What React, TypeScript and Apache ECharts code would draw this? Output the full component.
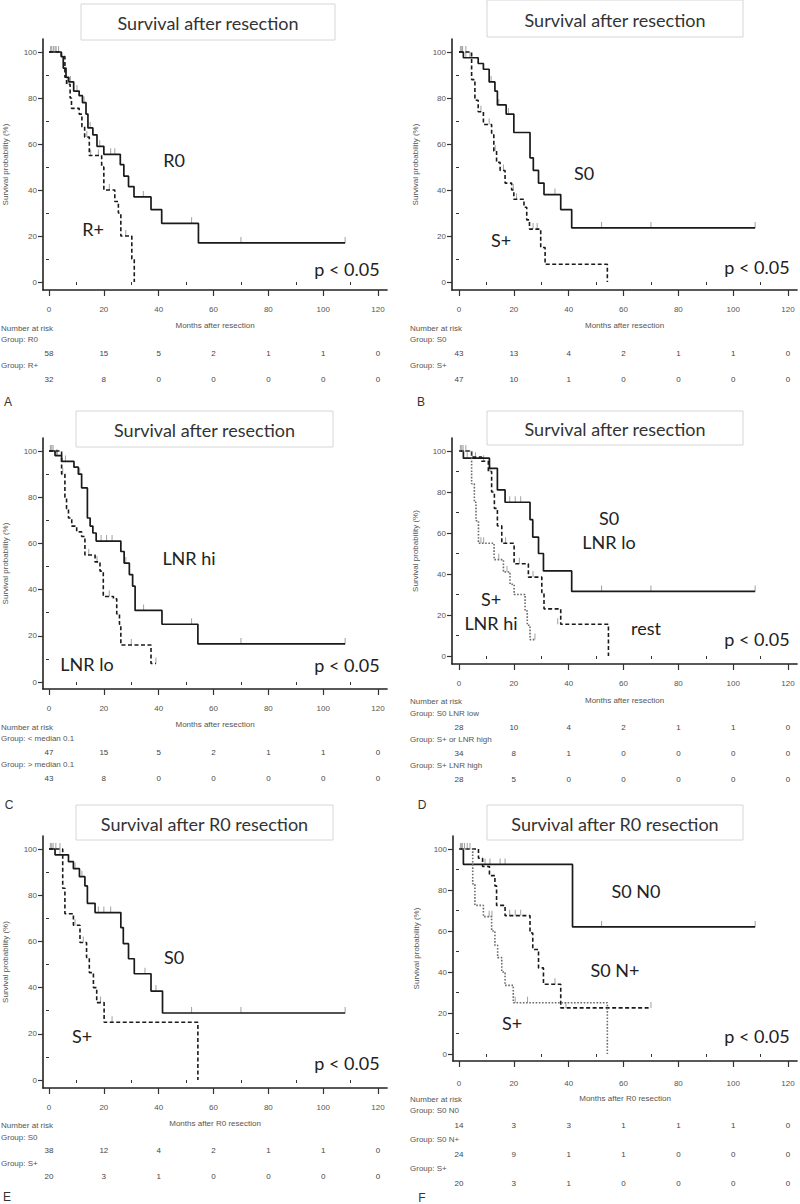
import React, { useEffect, useRef } from "react";
import * as echarts from "echarts";

type Pt = [number, number];

// ---------- axes ----------
const MONTH_TICKS = [0, 20, 40, 60, 80, 100, 120];
const MONTH_MINOR = [10, 30, 50, 70, 90, 110];
const PROB_TICKS = [0, 20, 40, 60, 80, 100];
const PROB_MINOR = [10, 30, 50, 70, 90];

// ---------- Panel A : R0 vs R+ ----------
const A_R0: Pt[] = [[0,100],[4.5,98],[5.2,93],[6.2,89],[7.2,87],[9,83],[11,81],[12.2,78],[13.5,73],[14.2,67],[16,64],[17.5,59],[20,55.5],[26,51],[27.3,46],[29,41.5],[31,37],[37.2,31.5],[41.1,25.5],[54.5,17],[108,17]];
const A_R0_CENS: Pt[] = [[0.6,100],[1.6,100],[2.6,100],[3.5,100],[7.8,87],[10.2,83],[12.8,78],[15,67],[18.5,59],[22.5,55.5],[24,55.5],[34.4,37],[52,25.5],[70,17],[108,17]];
const A_RP: Pt[] = [[0,100],[4.5,98],[5.8,89],[6.4,86],[7.7,80],[8.2,75.5],[11,73],[12,67.5],[13,63],[14.7,55],[19.2,50],[20,40],[24,35],[25.3,30],[26.2,20],[30.2,10],[31.1,0]];
const A_RP_CENS: Pt[] = [[1,100],[2.2,100],[6.8,86],[13.8,63],[15.2,55],[18,55],[22,40],[28,20]];
const A_RISK_R0 = [58, 15, 5, 2, 1, 1, 0];
const A_RISK_RP = [32, 8, 0, 0, 0, 0, 0];

// ---------- Panel B : S0 vs S+ ----------
const B_S0: Pt[] = [[0,100],[1.6,97.5],[7,95],[8.9,92.5],[11,87],[13.1,83],[14,77],[17.2,73],[20,65],[25.9,54],[27.1,48.5],[29,43],[31,38],[37.1,31.5],[41.1,23.5],[108,23.5]];
const B_S0_CENS: Pt[] = [[0.5,100],[1.3,100],[2.5,97.5],[4,97.5],[11.7,87],[14.5,77],[18,73],[35,38],[52,23.5],[70,23.5],[108,23.5]];
const B_SP: Pt[] = [[0,100],[4.6,88],[5.8,79],[7,74],[8.9,68.5],[11.9,64],[12.7,57],[13.7,52],[15,48.5],[16.8,43],[19.2,40],[20,36],[23.7,32.5],[24.7,27],[25.7,23],[29.8,15],[31.4,7.7],[54.1,0]];
const B_SP_CENS: Pt[] = [[1,100],[2.5,100],[8,74],[11,68.5],[13.2,57],[16.2,48.5],[19.8,40],[21,36],[27,23],[28.5,23]];
const B_RISK_S0 = [43, 13, 4, 2, 1, 1, 0];
const B_RISK_SP = [47, 10, 1, 0, 0, 0, 0];

// ---------- Panel C : LNR ----------
const C_HI: Pt[] = [[0,100],[2.2,98],[4.6,95.5],[9.1,93],[10.7,90],[11.9,84],[14,71],[15,67.5],[16,64.5],[17.2,61],[26.2,56.5],[27.4,51.5],[29.3,46.5],[30.5,41.5],[31.4,31],[41.2,25],[54.3,16.5],[108,16.5]];
const C_HI_CENS: Pt[] = [[0.5,100],[1.5,100],[3,98],[6,95.5],[11.2,90],[19,61],[21,61],[23,61],[28,51.5],[34.5,31],[52,25],[70,16.5],[108,16.5]];
const C_LO: Pt[] = [[0,100],[4.6,90],[5.8,80],[6.4,75],[7.1,71],[8.3,67.5],[10.1,65],[11.9,63],[13.1,55],[16.8,52],[18.6,48],[19.8,37],[23.5,36],[24.7,29.5],[25.7,25],[26.2,16],[37.2,8],[39,8]];
const C_LO_CENS: Pt[] = [[1,100],[2.8,98],[5,90],[14.5,55],[17.5,52],[22,37],[30,16],[39,8]];
const C_RISK_LO = [47, 15, 5, 2, 1, 1, 0];
const C_RISK_HI = [43, 8, 0, 0, 0, 0, 0];

// ---------- Panel D : S / LNR combined ----------
const D_S0LO: Pt[] = [[0,100],[1.6,96.5],[11.1,91.5],[14,81],[16.8,75],[25.9,66.5],[26.9,58],[29,50],[30.8,41.5],[41.1,31.5],[108,31.5]];
const D_S0LO_CENS: Pt[] = [[0.5,100],[3,96.5],[6,96.5],[18.5,75],[20.5,75],[22.5,75],[52,31.5],[70,31.5],[108,31.5]];
const D_REST: Pt[] = [[0,100],[4.6,97],[8.3,95],[10.7,90],[11.9,80],[12.9,72],[14,63.5],[15.6,55],[20.1,45],[25.3,38.5],[30.2,31],[31,23],[37.1,15.5],[54.5,0]];
const D_REST_CENS: Pt[] = [[1,100],[2.5,100],[9,95],[11.3,90],[17,55],[22,45],[27,38.5],[36,15.5]];
const D_SPHI: Pt[] = [[0,100],[4.6,84],[5.6,75],[6.2,66],[7.1,55],[12.8,47],[16.2,41],[18.6,35],[20.1,30],[24.1,22],[24.9,15],[25.9,8],[27.7,8]];
const D_SPHI_CENS: Pt[] = [[1.5,100],[8,55],[9,55],[14.5,47],[17.5,41],[27.7,8]];
const D_RISK_S0LO = [28, 10, 4, 2, 1, 1, 0];
const D_RISK_REST = [34, 8, 1, 0, 0, 0, 0];
const D_RISK_SPHI = [28, 5, 0, 0, 0, 0, 0];

// ---------- Panel E : R0 resection, S0 vs S+ ----------
const E_S0: Pt[] = [[0,100],[2.2,97.5],[7.1,94.5],[8.9,91.5],[11.1,88],[13.1,84],[14,76.5],[16.8,72.5],[26.2,66],[27.1,59],[29,52.5],[31.1,46],[37.2,38.5],[41.4,29],[108,29]];
const E_S0_CENS: Pt[] = [[0.5,100],[1.5,100],[4,97.5],[9.5,91.5],[12,88],[18,72.5],[20,72.5],[22.5,72.5],[35,46],[39,38.5],[52,29],[70,29],[108,29]];
const E_SP: Pt[] = [[0,100],[5,83],[5.8,72],[8.9,67],[11.3,59.5],[13.7,53],[14.7,46.5],[16.2,40],[17.4,33.5],[20.1,25],[54.3,0]];
const E_SP_CENS: Pt[] = [[1,100],[2.5,100],[4,100],[9.5,67],[12.5,59.5],[18.8,33.5],[23,25]];
const E_RISK_S0 = [38, 12, 4, 2, 1, 1, 0];
const E_RISK_SP = [20, 3, 1, 0, 0, 0, 0];

// ---------- Panel F : R0 resection, S0 N0 / S0 N+ / S+ ----------
const F_S0N0: Pt[] = [[0,100],[1.6,92.5],[41.4,62],[108,62]];
const F_S0N0_CENS: Pt[] = [[0.5,100],[1.2,100],[9.5,92.5],[11.3,92.5],[15,92.5],[16.8,92.5],[52,62],[108,62]];
const F_S0NP: Pt[] = [[0,100],[7.1,95.5],[8.6,91.5],[11.1,87],[13.1,82],[13.7,72.5],[16.8,67.5],[25.9,59],[26.9,51],[29,42],[30.8,34],[37.1,22.5],[70,22.5]];
const F_S0NP_CENS: Pt[] = [[2,100],[4,100],[18.5,67.5],[20.5,67.5],[22.5,67.5],[35,34],[39,22.5],[70,22.5]];
const F_SP: Pt[] = [[0,100],[5,83],[5.8,72.5],[8.9,67],[11.9,60],[13.1,53],[14.1,47],[15.6,40],[16.8,33.5],[19.8,25],[54.1,0]];
const F_SP_CENS: Pt[] = [[1,100],[3,100],[11,67],[12,67],[20.5,25],[25,25]];
const F_RISK_S0N0 = [14, 3, 3, 1, 1, 1, 0];
const F_RISK_S0NP = [24, 9, 1, 1, 0, 0, 0];
const F_RISK_SP = [20, 3, 1, 0, 0, 0, 0];

// ---------- layout ----------
const PANELS = [
  {
    letter: "A", letterX: 8, letterY: 402, title: "Survival after resection", box: [81, 4, 254, 36],
    t0: 49, y100: 52, y0: 282, axX: 43, axY: 290, xName: "Months after resection", labelMargin: 15, nameGap: 31,
    tableLeft: 1, nar: 38, g0: 49, n0: 63, step: 26,
    groups: [{ name: "Group: R0", risk: A_RISK_R0 }, { name: "Group: R+", risk: A_RISK_RP }],
    curves: [{ data: A_R0, cens: A_R0_CENS, kind: "solid" }, { data: A_RP, cens: A_RP_CENS, kind: "dashed" }],
    notes: [{ text: "R0", x: 174, y: 160 }, { text: "R+", x: 93, y: 229 }, { text: "p < 0.05", x: 347, y: 269 }],
  },
  {
    letter: "B", letterX: 421, letterY: 402, title: "Survival after resection", box: [487, 0, 256, 37],
    t0: 459, y100: 52, y0: 282, axX: 452, axY: 290, xName: "Months after resection", labelMargin: 15, nameGap: 31,
    tableLeft: 410, nar: 38, g0: 49, n0: 63, step: 26,
    groups: [{ name: "Group: S0", risk: B_RISK_S0 }, { name: "Group: S+", risk: B_RISK_SP }],
    curves: [{ data: B_S0, cens: B_S0_CENS, kind: "solid" }, { data: B_SP, cens: B_SP_CENS, kind: "dashed" }],
    notes: [{ text: "S0", x: 584, y: 173 }, { text: "S+", x: 501, y: 240 }, { text: "p < 0.05", x: 757, y: 267 }],
  },
  {
    letter: "C", letterX: 9, letterY: 805, title: "Survival after resection", box: [76, 411, 257, 36],
    t0: 49, y100: 451, y0: 682, axX: 43, axY: 689, xName: "Months after resection", labelMargin: 15, nameGap: 31,
    tableLeft: 1, nar: 38, g0: 49, n0: 63, step: 26,
    groups: [{ name: "Group: < median 0.1", risk: C_RISK_LO }, { name: "Group: > median 0.1", risk: C_RISK_HI }],
    curves: [{ data: C_HI, cens: C_HI_CENS, kind: "solid" }, { data: C_LO, cens: C_LO_CENS, kind: "dashed" }],
    notes: [{ text: "LNR hi", x: 189, y: 558 }, { text: "LNR lo", x: 87, y: 664 }, { text: "p < 0.05", x: 347, y: 665 }],
  },
  {
    letter: "D", letterX: 422, letterY: 805, title: "Survival after resection", box: [487, 411, 256, 34],
    t0: 459, y100: 451, y0: 656, axX: 452, axY: 664, xName: "Months after resection", labelMargin: 15, nameGap: 32,
    tableLeft: 410, nar: 37, g0: 49, n0: 63, step: 26,
    groups: [
      { name: "Group: S0 LNR low", risk: D_RISK_S0LO },
      { name: "Group: S+ or LNR high", risk: D_RISK_REST },
      { name: "Group: S+ LNR high", risk: D_RISK_SPHI },
    ],
    curves: [
      { data: D_S0LO, cens: D_S0LO_CENS, kind: "solid" },
      { data: D_REST, cens: D_REST_CENS, kind: "dashed" },
      { data: D_SPHI, cens: D_SPHI_CENS, kind: "dotted" },
    ],
    notes: [
      { text: "S0", x: 609, y: 518 }, { text: "LNR lo", x: 609, y: 542 },
      { text: "S+", x: 491, y: 599 }, { text: "LNR hi", x: 491, y: 623 },
      { text: "rest", x: 646, y: 628 }, { text: "p < 0.05", x: 757, y: 639 },
    ],
  },
  {
    letter: "E", letterX: 7, letterY: 1197, title: "Survival after R0 resection", box: [76, 805, 257, 35],
    t0: 49, y100: 849, y0: 1080, axX: 43, axY: 1088, xName: "Months after R0 resection", labelMargin: 15, nameGap: 31,
    tableLeft: 1, nar: 37, g0: 49, n0: 62, step: 26,
    groups: [{ name: "Group: S0", risk: E_RISK_S0 }, { name: "Group: S+", risk: E_RISK_SP }],
    curves: [{ data: E_S0, cens: E_S0_CENS, kind: "solid" }, { data: E_SP, cens: E_SP_CENS, kind: "dashed" }],
    notes: [{ text: "S0", x: 174, y: 957 }, { text: "S+", x: 82, y: 1036 }, { text: "p < 0.05", x: 347, y: 1063 }],
  },
  {
    letter: "F", letterX: 422, letterY: 1198, title: "Survival after R0 resection", box: [487, 805, 256, 35],
    t0: 459, y100: 849, y0: 1054, axX: 453, axY: 1061, xName: "Months after R0 resection", labelMargin: 18, nameGap: 33,
    tableLeft: 410, nar: 38, g0: 49, n0: 64, step: 29,
    groups: [
      { name: "Group: S0 N0", risk: F_RISK_S0N0 },
      { name: "Group: S0 N+", risk: F_RISK_S0NP },
      { name: "Group: S+", risk: F_RISK_SP },
    ],
    curves: [
      { data: F_S0N0, cens: F_S0N0_CENS, kind: "solid" },
      { data: F_S0NP, cens: F_S0NP_CENS, kind: "dashed" },
      { data: F_SP, cens: F_SP_CENS, kind: "dotted" },
    ],
    notes: [
      { text: "S0 N0", x: 636, y: 891 }, { text: "S0 N+", x: 615, y: 970 },
      { text: "S+", x: 512, y: 1023 }, { text: "p < 0.05", x: 757, y: 1036 },
    ],
  },
];

const PX_PER_MONTH = 2.742;
const X_END = 123.3;
const SMALL = "8px 'Liberation Sans', Arial, sans-serif";
const BIG = "18px Lato, 'Open Sans', sans-serif";

const LINE_STYLES: Record<string, any> = {
  solid: { color: "#1a1a1a", width: 1.7, type: "solid" },
  dashed: { color: "#1a1a1a", width: 1.6, type: [4, 2.5] },
  dotted: { color: "#6b6b6b", width: 1.6, type: [1.6, 1.6] },
};

function txt(text: string, x: number, y: number, font: string, fill: string, align = "center") {
  return {
    type: "text",
    silent: true,
    style: { text, x, y, font, fill, align, textAlign: align, verticalAlign: "middle", textVerticalAlign: "middle" },
  };
}

export default function App() {
  const ref = useRef<HTMLDivElement>(null);
  useEffect(() => {
    document.body.style.margin = "0";
    const chart = echarts.init(ref.current!, null, { renderer: "svg" });
    const grid: any[] = [];
    const xAxis: any[] = [];
    const yAxis: any[] = [];
    const series: any[] = [];

    PANELS.forEach((p, i) => {
      const ppy = (p.y0 - p.y100) / 100;
      const top = p.y100 - 13;
      const right = p.t0 + X_END * PX_PER_MONTH;
      grid.push({ left: p.axX, top, width: right - p.axX, height: p.axY - top, containLabel: false });
      const xmin = -(p.t0 - p.axX) / PX_PER_MONTH;
      const ymin = -(p.axY - p.y0) / ppy;
      const ymax = 100 + 13 / ppy;
      const axisLine = { show: true, onZero: false, lineStyle: { color: "#222", width: 1.6 } };
      const labelStyle = { fontSize: 8, color: "#555", fontFamily: "'Liberation Sans', Arial, sans-serif" };
      xAxis.push({
        type: "value", gridIndex: i, position: "bottom", min: xmin, max: X_END,
        axisLine, splitLine: { show: false },
        axisTick: { show: true, customValues: MONTH_TICKS, length: 6, lineStyle: { color: "#333", width: 1.2 } },
        axisLabel: { show: true, customValues: MONTH_TICKS, margin: p.labelMargin, ...labelStyle },
        name: p.xName, nameLocation: "middle", nameGap: p.nameGap, nameTextStyle: labelStyle,
      });
      xAxis.push({
        type: "value", gridIndex: i, position: "bottom", min: xmin, max: X_END,
        axisLine: { show: false }, splitLine: { show: false },
        axisTick: { show: true, customValues: MONTH_MINOR, length: 3, lineStyle: { color: "#333", width: 1 } },
        axisLabel: { show: false },
      });
      yAxis.push({
        type: "value", gridIndex: i, position: "left", min: ymin, max: ymax,
        axisLine, splitLine: { show: false },
        axisTick: { show: true, customValues: PROB_TICKS, length: 5, lineStyle: { color: "#333", width: 1.2 } },
        axisLabel: { show: true, customValues: PROB_TICKS, margin: 6, ...labelStyle },
        name: "Survival probability (%)", nameLocation: "middle", nameGap: p.axX < 100 ? 34 : 33,
        nameTextStyle: labelStyle,
      });
      yAxis.push({
        type: "value", gridIndex: i, position: "left", min: ymin, max: ymax,
        axisLine: { show: false }, splitLine: { show: false },
        axisTick: { show: true, customValues: PROB_MINOR, length: 3, lineStyle: { color: "#333", width: 1 } },
        axisLabel: { show: false },
      });
      p.curves.forEach((c) => {
        series.push({
          type: "line", xAxisIndex: 2 * i, yAxisIndex: 2 * i, data: c.data, step: "end",
          symbol: "none", silent: true, clip: false, lineStyle: LINE_STYLES[c.kind], z: 3,
        });
        series.push({
          type: "scatter", xAxisIndex: 2 * i, yAxisIndex: 2 * i, data: c.cens, silent: true,
          symbol: "rect", symbolSize: [1, 6], symbolOffset: [0, -3],
          itemStyle: { color: "#8a8a8a" }, z: 2,
        });
      });
    });

    chart.setOption({ animation: false, grid, xAxis, yAxis, series });

    const graphic: any[] = [];
    PANELS.forEach((p, i) => {
      const [bx, by, bw, bh] = p.box;
      graphic.push({
        type: "rect", silent: true, shape: { x: bx, y: by, width: bw, height: bh },
        style: { fill: "#fff", stroke: "#d6d6d6", lineWidth: 1 },
      });
      graphic.push(txt(p.title, bx + bw / 2, by + bh / 2 + 1, BIG, "#333"));
      p.notes.forEach((n) => graphic.push(txt(n.text, n.x, n.y, BIG, "#222")));
      graphic.push(txt("Number at risk", p.tableLeft, p.axY + p.nar, SMALL, "#555", "left"));
      p.groups.forEach((g, k) => {
        graphic.push(txt(g.name, p.tableLeft, p.axY + p.g0 + k * p.step, SMALL, "#555", "left"));
        g.risk.forEach((v, j) => {
          const px = chart.convertToPixel({ xAxisIndex: 2 * i }, MONTH_TICKS[j]) as number;
          graphic.push(txt(String(v), px, p.axY + p.n0 + k * p.step, SMALL, "#444"));
        });
      });
      graphic.push(txt(p.letter, p.letterX, p.letterY, "12px 'Liberation Sans', Arial, sans-serif", "#333"));
    });
    chart.setOption({ graphic });

    return () => chart.dispose();
  }, []);
  return <div ref={ref} style={{ width: 800, height: 1204, position: "absolute", left: 0, top: 0, background: "#fff" }} />;
}
